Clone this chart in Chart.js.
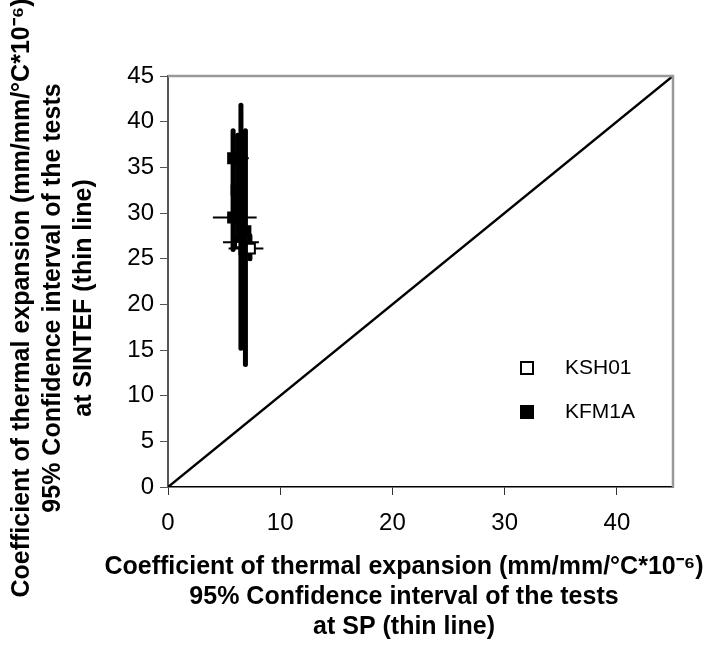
<!DOCTYPE html>
<html lang="en">
<head>
<meta charset="UTF-8">
<title>Thermal expansion SP vs SINTEF</title>
<script src="https://cdn.jsdelivr.net/npm/chart.js@4.4.0/dist/chart.umd.min.js"></script>
<style>
    body { margin: 0; background: #fff; }
</style>
</head>
<body>
<canvas id="chart" width="712" height="651"></canvas>
<script>
    // axis ticks
    const xTicks = [0, 10, 20, 30, 40];
    const yStep = 5;
    const axisMax = 45;

    // KSH01 (open squares)
    const kshX    = [6.5, 7.3, 6.5];
    const kshY    = [26.8, 26.1, 30.0];
    const kshXLo  = [4.9, 5.4, 6.2];
    const kshXHi  = [8.1, 8.5, 6.8];
    const kshYLo  = [25.5, 25.0, 27.5];
    const kshYHi  = [28.5, 27.5, 33.5];

    // KFM1A (filled squares)
    const kfmX    = [5.8, 5.8, 6.5, 6.9, 6.2];
    const kfmY    = [36.0, 29.5, 30.5, 28.0, 32.0];
    const kfmXLo  = [5.4, 4.0, 6.1, 6.6, 5.9];
    const kfmXHi  = [7.2, 7.9, 6.9, 7.2, 6.5];
    const kfmYLo  = [32.0, 26.0, 15.2, 13.4, 27.0];
    const kfmYHi  = [39.0, 33.0, 41.8, 39.0, 38.5];

    // 1:1 line
    const diagX = [0, 45];
    const diagY = [0, 45];

    const xTitle = ['Coefficient of thermal expansion (mm/mm/°C*10⁻⁶)',
                    '95% Confidence interval of the tests',
                    'at SP (thin line)'];
    const yTitle = ['Coefficient of thermal expansion (mm/mm/°C*10⁻⁶)',
                    '95% Confidence interval of the tests',
                    'at SINTEF (thin line)'];

    const toPts = (xs, ys) => xs.map((v, i) => ({ x: v, y: ys[i] }));

    const series = [
        { label: 'KSH01', x: kshX, y: kshY, xLo: kshXLo, xHi: kshXHi, yLo: kshYLo, yHi: kshYHi, fill: '#fff' },
        { label: 'KFM1A', x: kfmX, y: kfmY, xLo: kfmXLo, xHi: kfmXHi, yLo: kfmYLo, yHi: kfmYHi, fill: '#000' }
    ];

    // error bars of each series drawn just before its markers
    const errorBars = {
        id: 'errorBars',
        beforeDatasetDraw(chart, args) {
            const s = series[args.index];
            if (!s) return;
            const { ctx, scales: { x, y } } = chart;
            ctx.save();
            ctx.strokeStyle = '#000';
            s.x.forEach((xv, i) => {
                const px = x.getPixelForValue(xv);
                const py = y.getPixelForValue(s.y[i]);
                ctx.lineWidth = 5;
                ctx.lineCap = 'round';
                ctx.beginPath();
                ctx.moveTo(px, y.getPixelForValue(s.yLo[i]));
                ctx.lineTo(px, y.getPixelForValue(s.yHi[i]));
                ctx.stroke();
                ctx.lineWidth = 2;
                ctx.lineCap = 'butt';
                ctx.beginPath();
                ctx.moveTo(x.getPixelForValue(s.xLo[i]), py);
                ctx.lineTo(x.getPixelForValue(s.xHi[i]), py);
                ctx.stroke();
            });
            ctx.restore();
        }
    };

    // grey top/right frame, legend inside plot, axis titles
    const frameAndText = {
        id: 'frameAndText',
        afterDraw(chart) {
            const { ctx, chartArea: a } = chart;
            ctx.save();
            ctx.strokeStyle = '#999';
            ctx.lineWidth = 2.5;
            ctx.beginPath();
            ctx.moveTo(a.left, a.top);
            ctx.lineTo(a.right, a.top);
            ctx.lineTo(a.right, a.bottom);
            ctx.stroke();

            ctx.font = '21px "Liberation Sans", Arial, sans-serif';
            ctx.textBaseline = 'middle';
            series.forEach((s, i) => {
                const cy = 368 + i * 44;
                ctx.fillStyle = s.fill;
                ctx.strokeStyle = '#000';
                ctx.lineWidth = 2;
                ctx.fillRect(521, cy - 6, 12, 12);
                ctx.strokeRect(521, cy - 6, 12, 12);
                ctx.fillStyle = '#000';
                ctx.fillText(s.label, 565, cy);
            });

            ctx.font = 'bold 25px "Liberation Sans", Arial, sans-serif';
            ctx.textAlign = 'center';
            ctx.fillStyle = '#000';
            xTitle.forEach((t, i) => ctx.fillText(t, 404, 567 + i * 30));
            ctx.translate(0, 298);
            ctx.rotate(-Math.PI / 2);
            yTitle.forEach((t, i) => ctx.fillText(t, 0, 22 + i * 31));
            ctx.restore();
        }
    };

    // KSH01 drawn first (highest order), KFM1A over it, 1:1 line last
    const datasets = series.map((s, i) => ({
        label: s.label,
        data: toPts(s.x, s.y),
        order: series.length - i,
        pointStyle: 'rect',
        pointRadius: 7,
        pointBackgroundColor: s.fill,
        pointBorderColor: '#000',
        pointBorderWidth: 2,
        showLine: false
    }));
    datasets.push({
        label: 'diag',
        data: toPts(diagX, diagY),
        order: 0,
        showLine: true,
        borderColor: '#000',
        borderWidth: 2.5,
        pointRadius: 0
    });

    const tickFont = { family: '"Liberation Sans", Arial, sans-serif', size: 24 };

    new Chart(document.getElementById('chart'), {
        type: 'scatter',
        data: { datasets },
        options: {
            responsive: false,
            devicePixelRatio: 1,
            animation: false,
            layout: { padding: { top: 76, right: 39, left: 0, bottom: 0 } },
            plugins: { legend: { display: false }, tooltip: { enabled: false } },
            scales: {
                x: {
                    min: 0, max: axisMax,
                    afterBuildTicks: s => { s.ticks = xTicks.map(v => ({ value: v })); },
                    afterFit: s => { s.height = 164; },
                    ticks: { font: tickFont, color: '#000', padding: 14, maxRotation: 0 },
                    grid: { drawOnChartArea: false, tickLength: 8, color: '#333' },
                    border: { color: '#000', width: 1.5 }
                },
                y: {
                    min: 0, max: axisMax,
                    afterFit: s => { s.width = 168; },
                    ticks: { stepSize: yStep, font: tickFont, color: '#000', padding: 6 },
                    grid: { drawOnChartArea: false, tickLength: 8, color: '#555' },
                    border: { color: '#555', width: 2 }
                }
            }
        },
        plugins: [errorBars, frameAndText]
    });
</script>
</body>
</html>
